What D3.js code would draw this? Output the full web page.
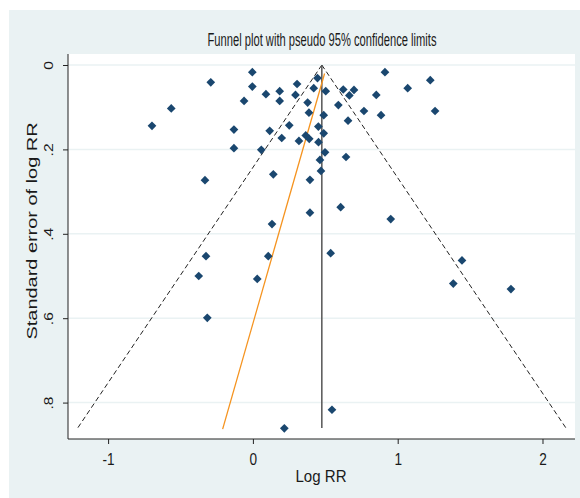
<!DOCTYPE html>
<html>
<head>
<meta charset="utf-8">
<script src="https://cdn.jsdelivr.net/npm/d3@7"></script>
<style>
  body { margin: 0; background: #fff; }
  text { font-family: "Liberation Sans", Arial, sans-serif; fill: #1a1a1a; }
</style>
</head>
<body>
<svg id="chart" width="580" height="498"></svg>
<script>
// ---------------- data ----------------
var logRR = [-0.004, -0.291, -0.004, 0.090, 0.185, 0.305, 0.446, 0.420, 0.503, 0.294,
  -0.061, 0.185, 0.378, 0.387, -0.564, 0.489, -0.697, -0.131, 0.116, 0.251,
  0.452, 0.489, 0.199, 0.318, 0.365, 0.389, 0.453, -0.131, 0.058, 0.498,
  0.463, 0.470, -0.331, 0.141, 0.394, 0.912, 1.225, 1.069, 0.624, 0.698,
  0.666, 0.852, 0.590, 0.767, 0.885, 1.258, 0.657, 0.643, 0.394, 0.606,
  0.132, -0.324, 0.106, 0.537, -0.374, 0.030, 1.384, 1.782, -0.315, 0.546,
  0.217, 0.952, 1.444];
var seLogRR = [0.017, 0.041, 0.051, 0.069, 0.062, 0.045, 0.031, 0.055, 0.062, 0.071,
  0.085, 0.085, 0.089, 0.113, 0.103, 0.119, 0.144, 0.153, 0.156, 0.143,
  0.146, 0.162, 0.173, 0.180, 0.167, 0.175, 0.183, 0.197, 0.201, 0.207,
  0.225, 0.251, 0.273, 0.259, 0.272, 0.017, 0.036, 0.055, 0.058, 0.059,
  0.072, 0.071, 0.095, 0.109, 0.119, 0.109, 0.132, 0.218, 0.350, 0.337,
  0.377, 0.453, 0.453, 0.446, 0.500, 0.507, 0.518, 0.531, 0.599, 0.817,
  0.861, 0.365, 0.463];
var pooled = 0.476;       // pooled log RR (vertical line)
var seMax = 0.86;         // end of the funnel
var eggerSE = [0.02, 0.863];
var eggerX = [0.495, -0.209];
var xTicks = [-1, 0, 1, 2];
var yTicks = [0, 0.2, 0.4, 0.6, 0.8];
var yTickLabels = ["0", ".2", ".4", ".6", ".8"];

var points = logRR.map(function(d, i) { return {x: d, se: seLogRR[i]}; });

// ---------------- layout ----------------
var svg = d3.select("#chart");
var pLeft = 68, pRight = 575, pTop = 54, pBottom = 439;

var x = d3.scaleLinear().domain([-1.277, 2.2245]).range([pLeft, pRight]);
var y = d3.scaleLinear().domain([-0.0261, 0.8863]).range([pTop, pBottom]);

// squeeze text along its direction
function squeeze(sel, f) {
  sel.each(function() {
    var w = this.getComputedTextLength();
    d3.select(this).attr("textLength", w * f).attr("lengthAdjust", "spacingAndGlyphs");
  });
}

svg.append("rect").attr("x", 9).attr("y", 10).attr("width", 571).attr("height", 488)
  .style("fill", "#eaf2f3");
svg.append("rect").attr("x", pLeft).attr("y", pTop).attr("width", pRight - pLeft).attr("height", pBottom - pTop)
  .style("fill", "#fff");

// grid
svg.selectAll(".grid").data(yTicks).enter().append("line")
  .attr("x1", pLeft).attr("x2", pRight)
  .attr("y1", function(d) { return y(d); }).attr("y2", function(d) { return y(d); })
  .style("stroke", "#eaf2f3").style("stroke-width", 1.5);

// axes
var xAxis = svg.append("g").attr("transform", "translate(0," + pBottom + ")")
  .call(d3.axisBottom(x).tickValues(xTicks).tickSize(5).tickPadding(4).tickFormat(d3.format("d")));
var yAxis = svg.append("g").attr("transform", "translate(" + pLeft + ",0)")
  .call(d3.axisLeft(y).tickValues(yTicks).tickSize(5).tickFormat(function(d, i) { return yTickLabels[i]; }));
[xAxis, yAxis].forEach(function(a) {
  a.select(".domain").remove();
  a.selectAll("line").style("stroke", "#222");
});
xAxis.append("line").attr("x1", pLeft).attr("x2", pRight).style("stroke", "#222");
yAxis.append("line").attr("y1", pTop).attr("y2", pBottom).style("stroke", "#222");

xAxis.selectAll(".tick text").text(function(d) { return d < 0 ? "-" + Math.abs(d) : d; })
  .style("font-size", "16px").style("fill", "#1a1a1a")
  .attr("y", 26).attr("dy", null).call(squeeze, 0.85);

yAxis.selectAll(".tick text").remove();
yAxis.selectAll(".tick").append("text")
  .attr("transform", "translate(-15,0) rotate(-90)")
  .attr("text-anchor", "middle")
  .style("font-size", "12px").style("fill", "#1a1a1a")
  .text(function(d, i) { return yTickLabels[i]; })
  .call(squeeze, 1.3);

// funnel (pseudo 95% limits)
var lo = [{x: pooled, se: 0}, {x: pooled - 1.96 * seMax, se: seMax}];
var hi = [{x: pooled, se: 0}, {x: pooled + 1.96 * seMax, se: seMax}];
var line = d3.line().x(function(d) { return x(d.x); }).y(function(d) { return y(d.se); });

[lo, hi].forEach(function(l) {
  svg.append("path").attr("d", line(l))
    .style("fill", "none").style("stroke", "#222").style("stroke-width", 1)
    .style("stroke-dasharray", "5,3");
});

svg.append("path").attr("d", line([{x: pooled, se: 0}, {x: pooled, se: seMax}]))
  .style("stroke", "#555").style("stroke-width", 1.5);

svg.append("path").attr("d", line(eggerSE.map(function(s, i) { return {x: eggerX[i], se: s}; })))
  .style("stroke", "#f5931f").style("stroke-width", 1.3).style("fill", "none");

// studies
svg.selectAll(".pt").data(points).enter().append("path")
  .attr("d", d3.symbol().type(d3.symbolSquare).size(38))
  .attr("transform", function(d) { return "translate(" + x(d.x) + "," + y(d.se) + ") rotate(45)"; })
  .style("fill", "#1a476f");

// titles
svg.append("text").attr("x", 322).attr("y", 46).attr("text-anchor", "middle")
  .style("font-size", "18px").text("Funnel plot with pseudo 95% confidence limits")
  .attr("textLength", 229).attr("lengthAdjust", "spacingAndGlyphs");

svg.append("text").attr("x", 321).attr("y", 482).attr("text-anchor", "middle")
  .style("font-size", "16px").text("Log RR")
  .attr("textLength", 51).attr("lengthAdjust", "spacingAndGlyphs");

svg.append("text").attr("transform", "translate(37,231) rotate(-90)").attr("text-anchor", "middle")
  .style("font-size", "15.5px").text("Standard error of log RR")
  .attr("textLength", 217).attr("lengthAdjust", "spacingAndGlyphs");
</script>
</body>
</html>
